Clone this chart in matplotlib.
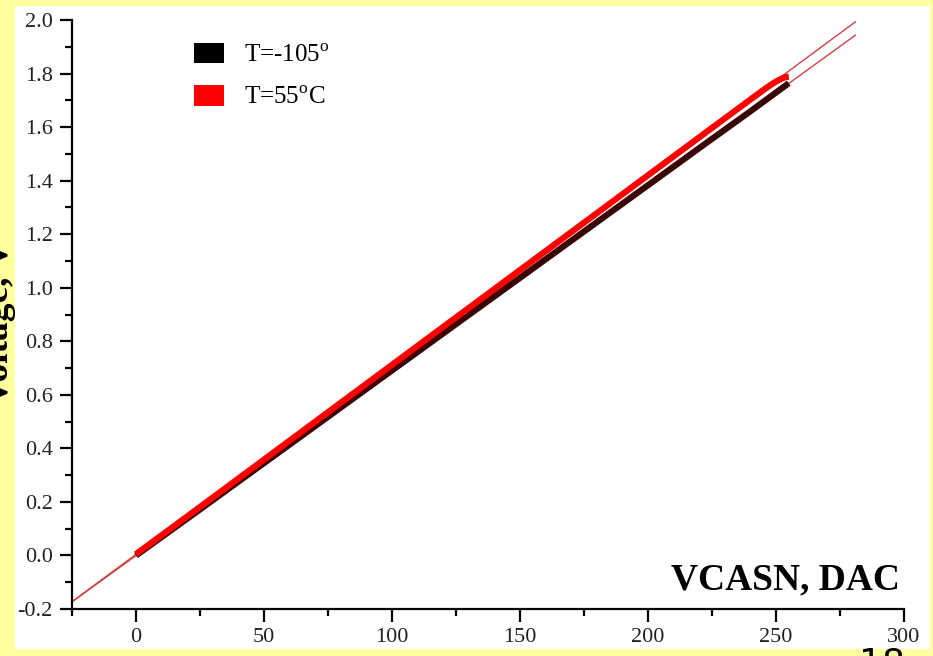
import numpy as np
import matplotlib
matplotlib.use("Agg")
import matplotlib.pyplot as plt
from matplotlib.patches import Rectangle, Patch
from matplotlib.ticker import MultipleLocator

plt.rcParams['font.family'] = ['Liberation Serif', 'DejaVu Serif']
plt.rcParams['mathtext.fontset'] = 'custom'
plt.rcParams['mathtext.rm'] = 'Liberation Serif'

# values
dac = [0, 25, 50, 75, 100, 125, 150, 175, 200, 225, 240, 245, 248, 250, 252, 253, 254, 255]
v_cold = [0.000, 0.172, 0.345, 0.518, 0.691, 0.864, 1.037, 1.210, 1.383, 1.556, 1.659, 1.694,
          1.715, 1.729, 1.743, 1.750, 1.757, 1.764]
v_hot = [0.005, 0.181, 0.358, 0.535, 0.712, 0.889, 1.066, 1.243, 1.420, 1.597, 1.703, 1.738,
         1.758, 1.770, 1.780, 1.784, 1.787, 1.788]
labels = [r'T=-105$^{\rm o}$', r'T=55$^{\rm o}$C']

fig = plt.figure(figsize=(9.33, 6.56), dpi=100, facecolor='#ffffa0')
fig.patches.append(Rectangle((15 / 933, 7 / 656), 915 / 933, 643 / 656,
                             transform=fig.transFigure, facecolor='white',
                             edgecolor='none', zorder=-5))

ax = fig.add_axes([72 / 933, 47 / 656, 832 / 933, 589 / 656])
ax.set_facecolor('none')

x = np.array(dac)
fit_x = np.array([-25, 281])
for v in (v_cold, v_hot):
    v = np.array(v)
    m = x <= 240
    k, b = np.polyfit(x[m], v[m], 1)
    ax.plot(fit_x, k * fit_x + b, color='#cc4444', lw=1.0, zorder=2)

ax.plot(dac, v_cold, color='#3a0505', lw=4.5, solid_capstyle='butt', zorder=3)
ax.plot(dac, v_hot, color='#ff0000', lw=4.5, solid_capstyle='butt', zorder=4)

ax.set_xlim(-25, 300)
ax.set_ylim(-0.2, 2.0)
ax.xaxis.set_major_locator(MultipleLocator(50))
ax.xaxis.set_minor_locator(MultipleLocator(25))
ax.yaxis.set_major_locator(MultipleLocator(0.2))
ax.yaxis.set_minor_locator(MultipleLocator(0.1))
ax.yaxis.set_major_formatter(matplotlib.ticker.FormatStrFormatter('%.1f'))
for s in ('top', 'right'):
    ax.spines[s].set_visible(False)
for s in ('left', 'bottom'):
    ax.spines[s].set_linewidth(1.6)
ax.tick_params(which='major', length=9, width=1.6, labelsize=16, labelcolor='#222222', pad=5)
ax.tick_params(which='minor', length=5, width=1.6)

handles = [Patch(facecolor=c, edgecolor='none') for c in ('black', '#ff0000')]
ax.legend(handles, labels, loc='upper left', bbox_to_anchor=(0.12, 1.0), frameon=False,
          fontsize=18, handletextpad=0.8, labelspacing=0.75, handlelength=1.2,
          handleheight=0.9)

ax.text(0.995, 0.02, 'VCASN, DAC', transform=ax.transAxes, ha='right', va='bottom',
        fontsize=27, fontweight='bold')
fig.text(16 / 933, 1 - 323 / 656, 'Voltage, V', rotation=90, ha='right', va='center',
         fontsize=27, fontweight='bold')
fig.text(882 / 933, -18 / 656, '18', ha='center', va='baseline', fontsize=26,
         family='DejaVu Sans')

fig.savefig('out.png', dpi=100, facecolor=fig.get_facecolor())
